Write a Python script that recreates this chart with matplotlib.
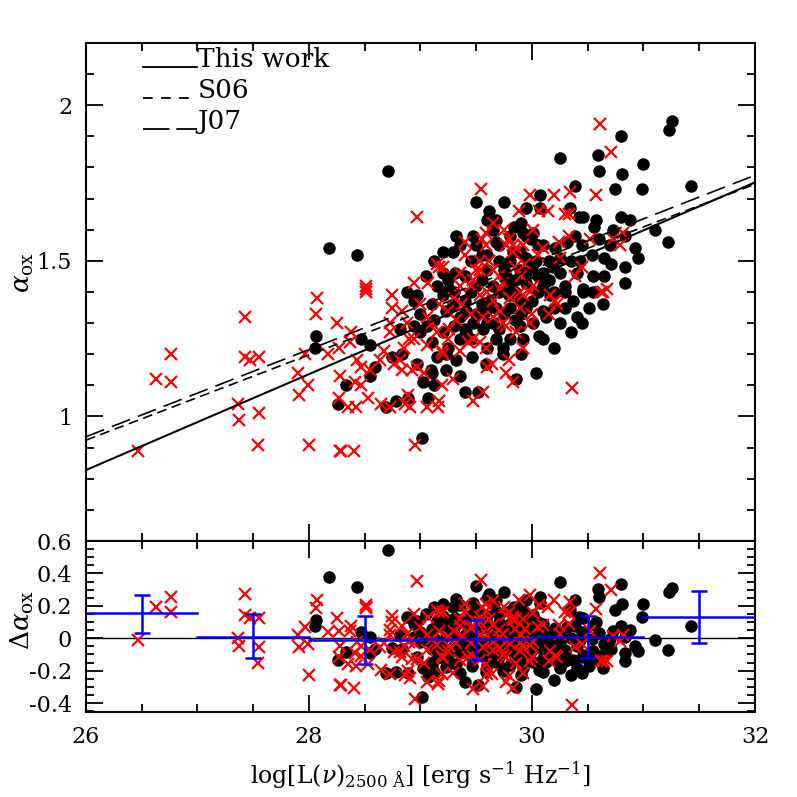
import numpy as np
import matplotlib
matplotlib.use("Agg")
import matplotlib.pyplot as plt
from matplotlib.ticker import MultipleLocator, FuncFormatter

"""Data read off the figure"""
# black circles: log L2500, alpha_ox
black_pts = [
    (28.06, 1.26), (28.05, 1.22), (28.47, 1.25), (28.55, 1.23), (28.59, 1.16), (28.55, 1.13),
    (28.33, 1.10), (28.26, 1.04), (28.69, 1.03), (28.78, 1.05), (28.89, 1.06), (29.01, 0.93),
    (28.74, 1.19), (28.83, 1.20), (28.97, 1.17), (29.09, 1.15), (29.10, 1.14), (29.02, 1.11),
    (29.12, 1.10), (29.07, 1.06), (29.23, 1.15), (29.35, 1.13), (29.40, 1.08), (29.52, 1.08),
    (29.59, 1.17), (29.15, 1.19), (29.23, 1.20), (29.32, 1.18), (29.46, 1.19), (29.68, 1.25),
    (28.88, 1.40), (28.94, 1.37), (28.82, 1.28), (28.94, 1.29), (29.00, 1.27), (29.06, 1.29),
    (29.12, 1.31), (29.23, 1.34), (29.20, 1.39), (29.29, 1.36), (29.41, 1.34), (29.47, 1.30),
    (29.41, 1.27), (29.35, 1.25), (29.56, 1.28), (29.62, 1.37), (29.59, 1.34),
    (29.74, 1.22), (29.74, 1.20), (30.04, 1.14), (29.86, 1.12), (30.06, 1.26), (29.92, 1.25),
    (30.13, 1.32), (30.10, 1.34), (30.37, 1.37), (30.46, 1.40), (30.51, 1.35), (30.64, 1.36),
    (30.30, 1.40), (30.01, 1.30), (29.89, 1.29), (29.79, 1.39), (29.68, 1.35),
    (31.26, 1.95), (31.23, 1.92), (30.80, 1.90), (30.25, 1.83), (30.59, 1.84), (30.60, 1.79),
    (31.00, 1.81), (30.81, 1.78), (30.74, 1.73), (30.99, 1.73), (31.43, 1.74), (30.39, 1.74),
    (30.07, 1.71), (29.75, 1.69), (29.95, 1.67), (30.07, 1.67), (30.34, 1.67), (30.42, 1.64),
    (30.46, 1.64), (30.57, 1.63), (30.56, 1.61), (30.80, 1.64), (30.88, 1.63), (31.10, 1.60),
    (31.22, 1.56), (29.84, 1.61), (30.01, 1.59), (30.10, 1.55), (30.21, 1.54), (30.31, 1.56),
    (30.39, 1.58), (30.45, 1.55), (30.43, 1.50), (30.54, 1.52), (30.65, 1.51), (30.71, 1.49),
    (30.83, 1.48), (30.73, 1.60), (30.83, 1.58), (30.92, 1.54), (30.95, 1.51), (30.55, 1.45),
    (30.40, 1.46), (30.46, 1.41), (30.83, 1.43), (30.10, 1.46), (30.19, 1.48), (30.30, 1.42),
    (30.16, 1.39), (29.89, 1.37), (29.79, 1.42), (29.83, 1.53), (29.95, 1.51), (30.04, 1.50),
    (30.25, 1.51),
    (28.71, 1.79), (28.18, 1.54), (28.43, 1.52), (29.50, 1.69), (29.61, 1.66), (29.68, 1.63),
    (29.65, 1.60), (29.47, 1.58), (29.32, 1.58), (29.35, 1.55), (29.20, 1.53), (29.29, 1.53),
    (29.12, 1.50), (29.20, 1.46), (29.31, 1.46), (28.97, 1.39), (29.26, 1.41), (29.80, 1.50),
    (29.89, 1.53), (29.68, 1.56), (29.77, 1.45), (29.89, 1.47), (29.95, 1.58), (29.92, 1.59),
    (29.99, 1.57),
    (29.40, 1.45), (29.50, 1.42), (29.60, 1.47), (29.70, 1.40), (29.85, 1.44), (29.95, 1.43),
    (30.00, 1.48), (29.55, 1.36), (29.65, 1.30), (29.75, 1.33), (29.85, 1.31), (29.95, 1.35),
    (30.05, 1.40), (30.15, 1.44), (30.20, 1.35), (30.25, 1.30), (29.45, 1.50), (29.30, 1.40),
    (29.35, 1.32), (29.40, 1.28), (29.00, 1.33), (29.10, 1.36), (29.15, 1.42), (29.05, 1.45),
    (29.55, 1.52), (29.70, 1.50), (30.10, 1.25), (30.20, 1.22), (29.90, 1.20), (29.60, 1.22),
    (29.80, 1.25),
    (29.25, 1.44), (29.45, 1.40), (29.55, 1.44), (29.65, 1.42), (29.75, 1.47), (29.85, 1.40),
    (29.95, 1.46), (30.05, 1.45), (30.15, 1.50), (30.25, 1.46), (30.35, 1.50), (29.60, 1.52),
    (29.70, 1.55), (29.80, 1.58), (29.50, 1.55), (29.40, 1.37), (29.50, 1.33), (29.60, 1.30),
    (29.70, 1.28), (29.80, 1.35), (29.90, 1.33), (30.00, 1.37), (30.10, 1.42), (30.20, 1.40),
    (30.30, 1.35), (30.40, 1.32), (30.35, 1.27), (30.45, 1.30), (29.45, 1.25), (29.30, 1.29),
    (29.20, 1.27), (29.10, 1.24), (29.25, 1.22), (30.55, 1.40), (30.65, 1.45), (30.70, 1.55),
    (30.60, 1.57), (30.05, 1.55), (29.90, 1.62), (29.60, 1.63),
]
# red crosses
red_pts = [
    (26.47, 0.89), (26.63, 1.12), (26.76, 1.20), (26.76, 1.11), (27.43, 1.32), (27.43, 1.19),
    (27.47, 1.18), (27.55, 1.19), (27.36, 1.04), (27.37, 0.99), (27.55, 1.01), (27.54, 0.91),
    (28.07, 1.38), (28.06, 1.33), (28.51, 1.40), (28.25, 1.30), (28.74, 1.39), (28.74, 1.35),
    (28.38, 1.27), (27.96, 1.20), (28.17, 1.20), (28.27, 1.22), (28.37, 1.24), (28.43, 1.18),
    (27.90, 1.14), (27.99, 1.10), (27.91, 1.07), (28.28, 1.13), (28.41, 1.11), (28.47, 1.10),
    (28.53, 1.06), (28.27, 1.06), (28.35, 1.03), (28.42, 1.03), (28.65, 1.04), (28.73, 1.03),
    (28.86, 1.04), (28.91, 1.03), (28.89, 1.07), (29.06, 1.03), (29.16, 1.03), (29.17, 1.05),
    (29.19, 1.10), (29.29, 1.12), (29.47, 1.05), (29.56, 1.08), (29.60, 1.16), (29.59, 1.22),
    (28.67, 1.21), (28.64, 1.18), (28.76, 1.17), (28.82, 1.18), (28.83, 1.15), (28.92, 1.15),
    (28.97, 1.16), (29.03, 1.14), (28.55, 1.15), (28.47, 1.16), (28.00, 0.91), (28.28, 0.89),
    (28.29, 0.89), (28.40, 0.89), (28.95, 0.91), (29.06, 1.23), (29.19, 1.21), (29.35, 1.21),
    (29.43, 1.24), (29.47, 1.25), (29.53, 1.24), (28.73, 1.30), (28.73, 1.27), (28.88, 1.30),
    (28.83, 1.34), (28.94, 1.25), (29.06, 1.32), (29.15, 1.27), (29.26, 1.28), (29.32, 1.31),
    (29.53, 1.39), (29.56, 1.32), (29.65, 1.32), (29.37, 1.36), (29.17, 1.36), (29.00, 1.36),
    (29.92, 1.22), (29.79, 1.18), (29.77, 1.14), (29.83, 1.11), (30.36, 1.09), (29.64, 1.17),
    (30.16, 1.39), (30.22, 1.36), (30.64, 1.40), (29.98, 1.30), (29.86, 1.27), (29.74, 1.30),
    (29.71, 1.34), (29.89, 1.35), (29.92, 1.39), (29.77, 1.29),
    (30.61, 1.94), (30.71, 1.85), (29.98, 1.71), (30.20, 1.71), (30.34, 1.72), (30.57, 1.71),
    (29.88, 1.66), (30.06, 1.66), (30.14, 1.66), (30.30, 1.65), (30.33, 1.65), (30.01, 1.60),
    (30.33, 1.58), (30.52, 1.57), (30.73, 1.57), (30.82, 1.59), (30.79, 1.55), (30.24, 1.56),
    (30.10, 1.54), (29.79, 1.57), (29.83, 1.55), (29.92, 1.55), (30.39, 1.45), (30.62, 1.40),
    (30.67, 1.41), (30.21, 1.37), (29.74, 1.43), (30.01, 1.42), (29.89, 1.40), (30.25, 1.51),
    (28.97, 1.64), (29.54, 1.73), (28.51, 1.42), (28.51, 1.41), (28.94, 1.43), (29.07, 1.43),
    (29.15, 1.49), (29.20, 1.48), (29.40, 1.52), (29.59, 1.59), (29.59, 1.55), (29.61, 1.50),
    (29.35, 1.46), (29.47, 1.44), (29.53, 1.50), (29.77, 1.55), (29.83, 1.53), (29.94, 1.49),
    (29.65, 1.47), (29.71, 1.41), (29.86, 1.54), (29.17, 1.48), (29.53, 1.47), (29.98, 1.40),
    (29.30, 1.38), (29.45, 1.33), (29.60, 1.40), (29.70, 1.45), (29.80, 1.38), (30.00, 1.33),
    (29.85, 1.48), (29.50, 1.47), (29.25, 1.25), (29.10, 1.30), (28.90, 1.25), (29.40, 1.56),
    (29.55, 1.57), (29.65, 1.62), (29.35, 1.42),
    (29.65, 1.37), (29.90, 1.45), (30.15, 1.33), (29.45, 1.42), (29.25, 1.34), (30.05, 1.52),
    (29.75, 1.60), (29.20, 1.20), (30.45, 1.48), (28.85, 1.22),
]

# alpha_ox = slope * log L + intercept
fit_this = (0.154, -3.176)
fit_s06 = (0.137, -2.638)
fit_j07 = (0.140, -2.705)

# binned residuals (bin edges, mean, lower/upper end of error bar)
bin_lo = [26, 27, 28, 29, 30, 31]
bin_hi = [27, 28, 29, 30, 31, 32]
bin_mean = [0.155, 0.008, -0.008, -0.005, 0.008, 0.132]
bin_err_low = [0.035, -0.120, -0.160, -0.136, -0.120, -0.030]
bin_err_high = [0.270, 0.147, 0.136, 0.110, 0.136, 0.290]

"""Style"""
plt.rcParams['font.family'] = ['DejaVu Serif']
plt.rcParams['mathtext.fontset'] = 'dejavuserif'
plt.rcParams['lines.scale_dashes'] = False

bx, by = np.array(black_pts).T
rx, ry = np.array(red_pts).T
res_b = by - (fit_this[0] * bx + fit_this[1])
res_r = ry - (fit_this[0] * rx + fit_this[1])

fig = plt.figure(figsize=(7.97, 7.97), dpi=100)
ax1 = fig.add_axes([0.1079, 0.3212, 0.8394, 0.6249])
ax2 = fig.add_axes([0.1079, 0.1066, 0.8394, 0.2146])

msize = 9

"""Top panel"""
ax1.plot(bx, by, 'o', color='black', ms=msize, mec='none', zorder=2)
ax1.plot(rx, ry, 'x', color='red', ms=msize, mew=1.6, zorder=3)
xx = np.array([26, 32])
ax1.plot(xx, fit_this[0] * xx + fit_this[1], '-', color='black', lw=1.5, zorder=4)
ax1.plot(xx, fit_s06[0] * xx + fit_s06[1], color='black', lw=1.2, dashes=(7, 4), zorder=4)
ax1.plot(xx, fit_j07[0] * xx + fit_j07[1], color='black', lw=1.2, dashes=(14, 6), zorder=4)

# hand-made legend
leg = [("This work", None, 2.122), ("S06", (7, 6), 2.022), ("J07", (19, 5), 1.923)]
for label, dash, ly in leg:
    if dash is None:
        ax1.plot([26.51, 27.0], [ly, ly], '-', color='black', lw=1.3)
    else:
        ax1.plot([26.51, 27.0], [ly, ly], color='black', lw=1.3, dashes=dash)
    ax1.text(27.0, ly, label, fontsize=19, va='baseline', ha='left')

ax1.set_xlim(26, 32)
ax1.set_ylim(0.6, 2.2)
ax1.set_ylabel(r'$\alpha_{\rm ox}$', fontsize=19)
ax1.yaxis.set_label_coords(-0.075, 0.54)
ax1.xaxis.set_major_locator(MultipleLocator(2))
ax1.xaxis.set_minor_locator(MultipleLocator(0.5))
ax1.yaxis.set_major_locator(MultipleLocator(0.5))
ax1.yaxis.set_minor_locator(MultipleLocator(0.1))
ax1.tick_params(labelbottom=False)

"""Bottom panel"""
ax2.axhline(0, color='black', lw=1.0, zorder=1)
ax2.plot(bx, res_b, 'o', color='black', ms=msize, mec='none', zorder=2)
ax2.plot(rx, res_r, 'x', color='red', ms=msize, mew=1.6, zorder=3)
for lo, hi, m, el, eh in zip(bin_lo, bin_hi, bin_mean, bin_err_low, bin_err_high):
    c = 0.5 * (lo + hi)
    ax2.plot([lo, hi], [m, m], color='blue', lw=1.8, zorder=5)
    ax2.errorbar([c], [m], yerr=[[m - el], [eh - m]], fmt='none', ecolor='blue',
                 elinewidth=1.8, capsize=6, capthick=1.8, zorder=5)

ax2.set_xlim(26, 32)
ax2.set_ylim(-0.455, 0.6)
ax2.set_ylabel(r'$\Delta\alpha_{\rm ox}$', fontsize=19)
ax2.yaxis.set_label_coords(-0.075, 0.54)
ax2.set_xlabel(r'log[L($\nu$)$_{2500\ \mathrm{\AA}}$] [erg s$^{-1}$ Hz$^{-1}$]', fontsize=17)
ax2.xaxis.set_label_coords(0.5, -0.28)
ax2.xaxis.set_major_locator(MultipleLocator(2))
ax2.xaxis.set_minor_locator(MultipleLocator(0.5))
ax2.yaxis.set_major_locator(MultipleLocator(0.2))
ax2.yaxis.set_minor_locator(MultipleLocator(0.05))


def fmt(v, pos):
    v = round(v, 2)
    if v == 0:
        return '0'
    return '%g' % v


for ax in (ax1, ax2):
    ax.yaxis.set_major_formatter(FuncFormatter(fmt))
    ax.xaxis.set_major_formatter(FuncFormatter(fmt))
    ax.tick_params(which='both', direction='in', top=True, right=True, labelsize=16, pad=10)
    ax.tick_params(which='major', length=12, width=1.3)
    ax.tick_params(which='minor', length=6, width=1.3)
    for s in ax.spines.values():
        s.set_linewidth(1.5)

fig.savefig("out.png", dpi=100)
